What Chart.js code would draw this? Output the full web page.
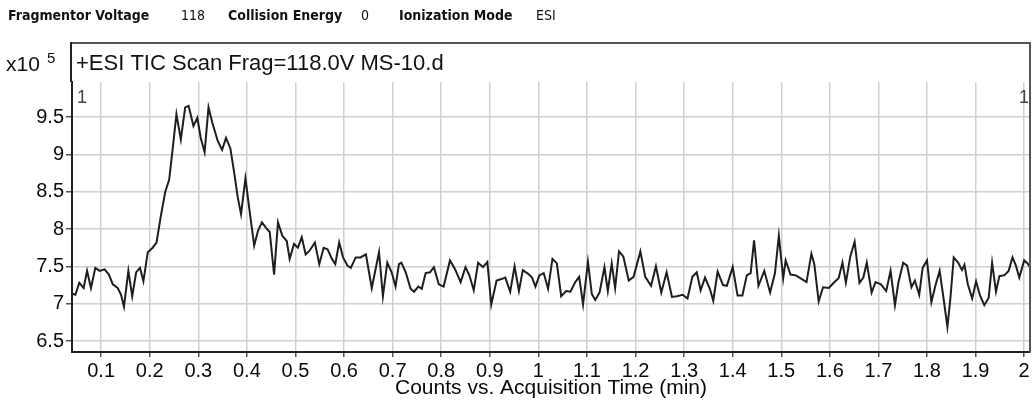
<!DOCTYPE html>
<html>
<head>
<meta charset="utf-8">
<script src="https://cdn.jsdelivr.net/npm/chart.js@4.4.1/dist/chart.umd.min.js"></script>
<style>
  html, body { margin: 0; padding: 0; background: #ffffff; }
  #wrap { position: relative; width: 1032px; height: 403px; }
</style>
</head>
<body>
<div id="wrap"><canvas id="tic" width="1032" height="403"></canvas></div>
<script>
// TIC trace, acquisition time (min) and counts (x10^5), in three stretches
const timesA = [0.038,0.047,0.055,0.064,0.071,0.079,0.088,0.097,0.107,0.116,
  0.124,0.134,0.141,0.147,0.156,0.164,0.172,0.180,0.187,0.196,
  0.206,0.214,0.223,0.232,0.240,0.247,0.255,0.264,0.273,0.280,
  0.290,0.298,0.305,0.313,0.321,0.329,0.340,0.349,0.357,0.366,
  0.374,0.381,0.388,0.397,0.405,0.415,0.423,0.431,0.439,0.447,
  0.456,0.464,0.473,0.482,0.488,0.497,0.505,0.513,0.521,0.529,
  0.540,0.549,0.558,0.566,0.575,0.582,0.590,0.598,0.607,0.614,
  0.624,0.634,0.645,0.657,0.672,0.680,0.689,0.698,0.706,0.713];
const countsA = [7.14,7.12,7.28,7.21,7.44,7.21,7.48,7.44,7.46,7.39,
  7.26,7.21,7.12,6.96,7.44,7.10,7.42,7.48,7.30,7.69,
  7.75,7.82,8.18,8.50,8.66,9.06,9.54,9.20,9.63,9.65,
  9.38,9.49,9.22,9.03,9.63,9.42,9.18,9.06,9.22,9.08,
  8.75,8.43,8.20,8.68,8.27,7.78,7.98,8.09,8.02,7.96,
  7.39,8.09,7.91,7.84,7.60,7.80,7.75,7.89,7.66,7.71,
  7.82,7.53,7.75,7.73,7.60,7.53,7.82,7.62,7.51,7.48,
  7.62,7.62,7.66,7.21,7.69,7.10,7.55,7.42,7.23,7.53];

const timesB = [0.718,0.727,0.737,0.744,0.753,0.760,0.768,0.777,0.785,0.795,
  0.805,0.818,0.828,0.840,0.850,0.858,0.867,0.876,0.886,0.895,
  0.903,0.914,0.924,0.932,0.942,0.951,0.960,0.968,0.979,0.987,
  0.994,1.002,1.011,1.020,1.029,1.038,1.047,1.057,1.066,1.076,
  1.084,1.092,1.102,1.110,1.117,1.126,1.136,1.143,1.151,1.158,
  1.166,1.175,1.186,1.196,1.210,1.220,1.232,1.242,1.253,1.264,
  1.275,1.285,1.297,1.307,1.317,1.326,1.334,1.343,1.353,1.360];
const countsB = [7.55,7.42,7.20,7.16,7.23,7.20,7.41,7.42,7.49,7.26,
  7.23,7.58,7.47,7.29,7.49,7.38,7.18,7.55,7.49,7.56,
  6.99,7.31,7.33,7.35,7.16,7.50,7.17,7.45,7.40,7.35,
  7.23,7.38,7.41,7.20,7.60,7.54,7.10,7.17,7.16,7.29,
  7.36,6.99,7.56,7.13,7.05,7.15,7.49,7.17,7.54,7.21,
  7.70,7.63,7.31,7.36,7.70,7.36,7.24,7.50,7.15,7.42,
  7.09,7.10,7.12,7.07,7.36,7.42,7.18,7.35,7.20,7.04];

const timesC = [1.369,1.380,1.388,1.400,1.410,1.420,1.429,1.437,1.444,1.453,
  1.465,1.477,1.487,1.495,1.504,1.509,1.519,1.530,1.540,1.552,
  1.562,1.568,1.577,1.586,1.598,1.608,1.618,1.626,1.633,1.642,
  1.651,1.661,1.669,1.676,1.686,1.694,1.705,1.716,1.725,1.734,
  1.741,1.751,1.759,1.768,1.775,1.784,1.791,1.800,1.809,1.818,
  1.826,1.833,1.842,1.848,1.855,1.864,1.872,1.877,1.884,1.893,
  1.901,1.909,1.918,1.927,1.934,1.942,1.949,1.959,1.968,1.976,
  1.983,1.990,2.000,2.007,2.013];
const countsC = [7.43,7.25,7.24,7.49,7.11,7.11,7.38,7.41,7.85,7.24,
  7.44,7.15,7.41,7.91,7.34,7.58,7.39,7.38,7.34,7.29,
  7.67,7.53,7.03,7.22,7.21,7.28,7.34,7.55,7.28,7.63,
  7.83,7.28,7.35,7.55,7.15,7.29,7.26,7.17,7.44,6.98,
  7.28,7.55,7.51,7.22,7.31,7.12,7.48,7.58,7.02,7.26,
  7.44,7.12,6.69,7.06,7.62,7.55,7.45,7.52,7.26,7.07,
  7.30,7.11,6.98,7.08,7.55,7.16,7.37,7.38,7.44,7.62,
  7.51,7.35,7.58,7.54,7.48];

// Acquisition header fields
const headerFields = [
  ['Fragmentor Voltage', '118'],
  ['Collision Energy', '0'],
  ['Ionization Mode', 'ESI']
];
const plotTitle = '+ESI TIC Scan Frag=118.0V MS-10.d';
const xAxisTitle = 'Counts vs. Acquisition Time (min)';
const yExponent = '5';

const scanTimes = timesA.concat(timesB, timesC);
const ticCounts = countsA.concat(countsB, countsC);
const points = scanTimes.map((t, i) => ({ x: t, y: ticCounts[i] }));

const SANS = '"Liberation Sans", Arial, sans-serif';
const COND = '"DejaVu Sans Condensed", "DejaVu Sans", sans-serif';
const fmt = v => String(Math.round(v * 10) / 10);

// Frame, header line, exponent and trace title
const decorations = {
  id: 'decorations',
  afterDraw(chart) {
    const ctx = chart.ctx;
    const a = chart.chartArea;
    ctx.save();

    // header line
    const hx = [[8, 181], [228, 361], [399, 536]];
    ctx.textBaseline = 'middle';
    ctx.fillStyle = '#111';
    headerFields.forEach((f, i) => {
      ctx.font = 'bold 14px ' + COND;
      ctx.fillText(f[0], hx[i][0], 16);
      ctx.font = '14px ' + COND;
      ctx.fillText(f[1], hx[i][1], 16);
    });

    // frame above the plot
    ctx.strokeStyle = '#555';
    ctx.lineWidth = 2;
    ctx.beginPath();
    ctx.moveTo(a.left - 1, 43);
    ctx.lineTo(1031, 43);
    ctx.moveTo(1030, 43);
    ctx.lineTo(1030, a.bottom);
    ctx.stroke();
    ctx.strokeStyle = '#222';
    ctx.beginPath();
    ctx.moveTo(a.left - 1, 42);
    ctx.lineTo(a.left - 1, a.top);
    ctx.stroke();

    // trace title
    ctx.fillStyle = '#111';
    ctx.font = '22px ' + SANS;
    ctx.textBaseline = 'alphabetic';
    ctx.fillText(plotTitle, 76, 70);

    // exponent label
    ctx.font = '21px ' + SANS;
    ctx.fillText('x10', 6, 71);
    ctx.font = '15px ' + SANS;
    ctx.fillText(yExponent, 47, 63);

    // trace number markers
    ctx.fillStyle = '#444';
    ctx.font = '18px ' + SANS;
    ctx.textAlign = 'left';
    ctx.fillText('1', a.left + 5, a.top + 21);
    ctx.textAlign = 'right';
    ctx.fillText('1', a.right - 1, a.top + 21);
    ctx.restore();
  }
};

new Chart(document.getElementById('tic'), {
  type: 'line',
  data: {
    datasets: [{
      data: points,
      borderColor: '#1e1e1e',
      borderWidth: 2,
      pointRadius: 0,
      tension: 0,
      fill: false
    }]
  },
  options: {
    responsive: false,
    animation: false,
    parsing: false,
    layout: { padding: { top: 82, right: 2, left: 0, bottom: 0 }, autoPadding: false },
    plugins: { legend: { display: false }, tooltip: { enabled: false } },
    scales: {
      x: {
        type: 'linear',
        min: 0.04,
        max: 2.012,
        afterFit: s => { s.height = 51; },
        ticks: {
          stepSize: 0.1,
          includeBounds: false,
          autoSkip: false,
          maxRotation: 0,
          padding: 2,
          color: '#0a0a0a',
          font: { family: SANS, size: 20 },
          callback: v => fmt(v)
        },
        grid: { color: '#d0d0d0', lineWidth: 1.5, tickColor: '#555', tickLength: 5 },
        border: { display: true, color: '#222', width: 2 },
        title: {
          display: true,
          text: xAxisTitle,
          color: '#0a0a0a',
          font: { family: SANS, size: 21 },
          padding: { top: 0, bottom: 2 }
        }
      },
      y: {
        type: 'linear',
        min: 6.353,
        max: 9.97,
        afterFit: s => { s.width = 72; },
        ticks: {
          stepSize: 0.5,
          includeBounds: false,
          padding: 2,
          color: '#0a0a0a',
          font: { family: SANS, size: 20 },
          callback: v => fmt(v)
        },
        grid: { color: '#d0d0d0', lineWidth: 1.5, tickColor: '#555', tickLength: 6 },
        border: { display: true, color: '#222', width: 2 }
      }
    }
  },
  plugins: [decorations]
});
</script>
</body>
</html>
